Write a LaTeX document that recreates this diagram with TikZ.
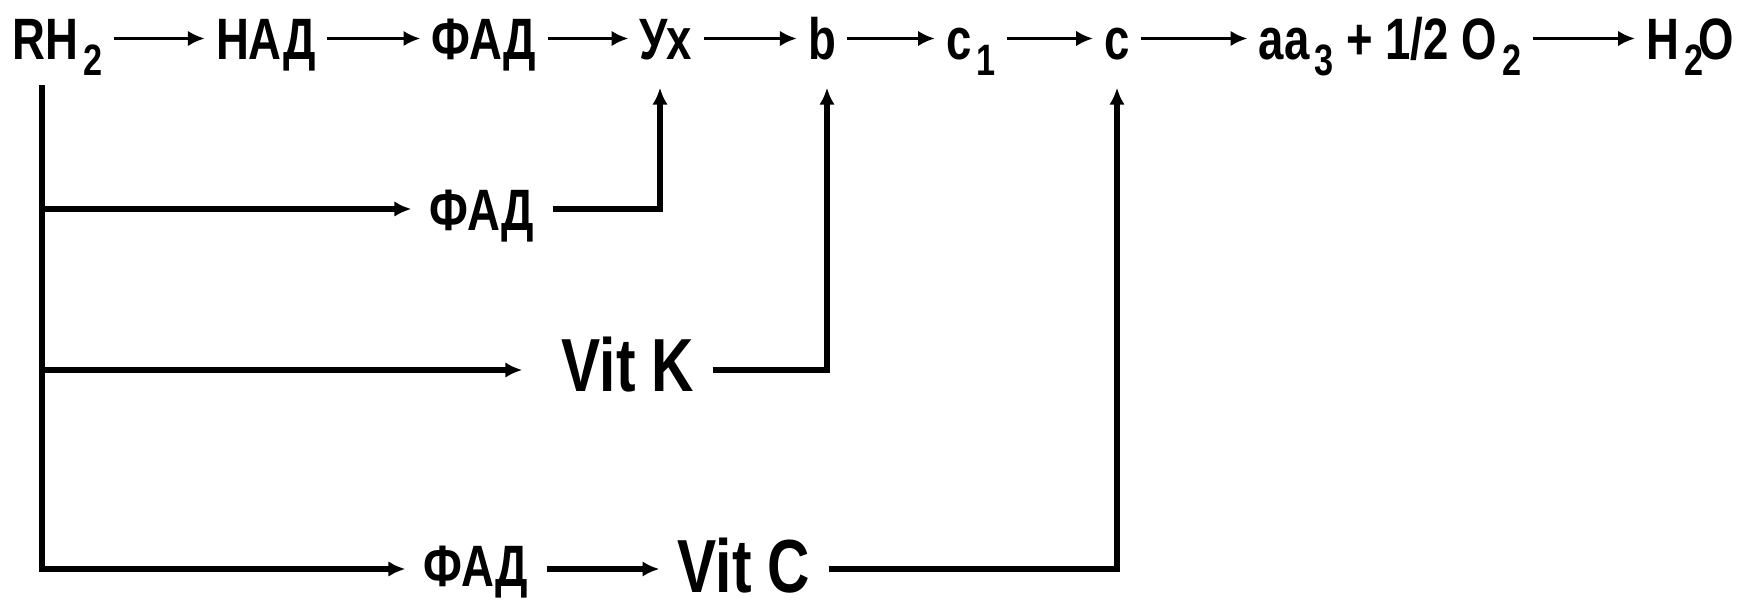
\documentclass[tikz,border=0pt]{standalone}
\usepackage{fontspec}
\setmainfont{Liberation Sans}[FakeStretch=0.78]
\usetikzlibrary{arrows.meta}
\newcommand{\lowsub}[1]{\hspace{1.5pt}\raisebox{-4.3pt}{\fontsize{12.5}{13}\selectfont #1}}

\begin{document}
\begin{tikzpicture}[x=0.01cm, y=-0.01cm,
        >={Latex[length=4.8pt, width=4.4pt]},
        toprow/.style={font=\fontsize{16.6}{17}\selectfont\bfseries, inner xsep=3pt,
            inner ysep=7.7pt, text height=12.2pt, text depth=0pt},
        side/.style={font=\fontsize{16.6}{17}\selectfont\bfseries, inner xsep=5pt,
            inner ysep=0pt, text height=12.2pt, text depth=0pt},
        vit/.style={font=\fontsize{21.4}{22}\selectfont\bfseries, inner xsep=5pt,
            inner ysep=0pt, text height=15.6pt, text depth=0pt},
        flow/.style={->, line width=0.9pt},
        branch/.style={line width=1.7pt, line join=miter}]
        \useasboundingbox (0, 0) rectangle (1754, 600);
        \node[toprow] (rh) at (58, 38.5) {RH\lowsub{2}};
        \node[toprow] (nad) at (266, 38.5) {НАД};
        \node[toprow] (fad) at (484, 38.5) {ФАД};
        \node[toprow] (ux) at (666, 38.5) {Ух};
        \node[toprow] (b) at (822, 38.5) {b};
        \node[toprow] (cone) at (971, 38.5) {c\lowsub{1}};
        \node[toprow] (c) at (1117, 38.5) {c};
        \node[toprow] (aa) at (1390, 38.5) {aa\lowsub{3} + 1/2 O\lowsub{2}};
        \node[toprow] (water) at (1690, 38.5) {H\lowsub{2}\hspace{-1.5pt}O};
        \draw[flow] (rh) -- (nad);
        \draw[flow] (nad) -- (fad);
        \draw[flow] (fad) -- (ux);
        \draw[flow] (ux) -- (b);
        \draw[flow] (b) -- (cone);
        \draw[flow] (cone) -- (c);
        \draw[flow] (c) -- (aa);
        \draw[flow] (aa) -- (water);

        \coordinate (top) at (42, 85);
        \coordinate (j1) at (42, 209);
        \coordinate (j2) at (42, 370);
        \coordinate (j3) at (42, 569);
        \coordinate (k1) at (660, 209);
        \coordinate (k2) at (827, 370);
        \coordinate (k3) at (1117, 569);
        \node[side] (fadone) at (482, 209) {ФАД};
        \node[vit] (vitk) at (628, 364) {Vit K};
        \node[side] (fadtwo) at (476, 565) {ФАД};
        \node[vit] (vitc) at (744, 565) {Vit C};

        \draw[branch, ->] (top) -- (j3) -- (fadtwo.west |- j3);
        \draw[branch, ->] (j1) -- (fadone);
        \draw[branch, ->, shorten >=6pt] (j2) -- (vitk.west |- j2);
        \draw[branch, ->] (fadtwo.east |- j3) -- (vitc.west |- j3);
        \draw[branch, ->] (fadone) -- (k1) -- (k1 |- ux.south);
        \draw[branch, ->] (vitk.east |- k2) -- (k2) -- (k2 |- b.south);
        \draw[branch, ->] (vitc.east |- k3) -- (k3) -- (k3 |- c.south);
    \end{tikzpicture}
\end{document}
